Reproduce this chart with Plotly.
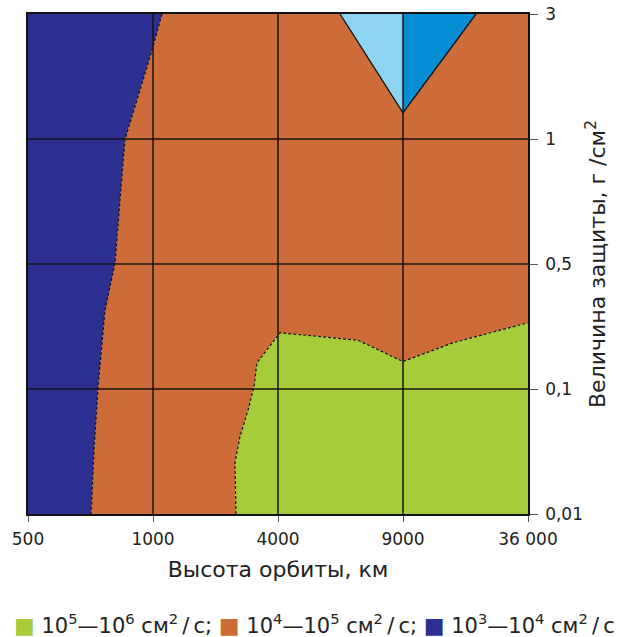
import plotly.graph_objects as go

# Category scales (equally spaced on the chart)
altitude_labels = ["500", "1000", "4000", "9000", "36 000"]
thickness_labels = ["0,01", "0,1", "0,5", "1", "3"]

# Region boundaries, in positions along the category scales
blue_edge_x = [1.072, 0.992, 0.872, 0.776, 0.736, 0.696, 0.616, 0.56, 0.528, 0.504]
blue_edge_y = [4.0, 3.71, 3.31, 3.0, 2.51, 2.01, 1.63, 1.01, 0.51, 0.0]
green_edge_x = [1.664, 1.656, 1.696, 1.76, 1.808, 1.832, 2.016, 2.312, 2.64, 3.0, 3.4, 4.0]
green_edge_y = [0.0, 0.41, 0.62, 0.83, 1.02, 1.21, 1.45, 1.42, 1.39, 1.22, 1.37, 1.53]
light_tri_x = [2.496, 3.0, 3.0]
light_tri_y = [4.0, 3.21, 4.0]
mid_tri_x = [3.0, 3.584, 3.0]
mid_tri_y = [4.0, 4.0, 3.21]

TS = "\u2009"  # thin space
legend_labels = [f"10<sup>5</sup>—10<sup>6</sup> см<sup>2</sup>{TS}/{TS}с",
                 f"10<sup>4</sup>—10<sup>5</sup> см<sup>2</sup>{TS}/{TS}с",
                 f"10<sup>3</sup>—10<sup>4</sup> см<sup>2</sup>{TS}/{TS}с"]

C_BLUE = "#2D3091"
C_ORANGE = "#CD6C38"
C_GREEN = "#A6CD39"
C_LIGHT = "#8DD3F2"
C_MID = "#058ED6"

xmax = len(altitude_labels) - 1
ymax = len(thickness_labels) - 1

fig = go.Figure()

# orange region: complement of the others
orange_x = blue_edge_x + green_edge_x + [xmax, mid_tri_x[1], light_tri_x[1], light_tri_x[0], blue_edge_x[0]]
orange_y = blue_edge_y + green_edge_y + [ymax, mid_tri_y[1], light_tri_y[1], light_tri_y[0], blue_edge_y[0]]
fig.add_trace(go.Scatter(x=orange_x, y=orange_y, fill="toself", fillcolor=C_ORANGE,
                         mode="lines", line=dict(width=0, color=C_ORANGE), hoverinfo="skip"))

blue_x = [0] + blue_edge_x + [0]
blue_y = [ymax] + blue_edge_y + [0]
fig.add_trace(go.Scatter(x=blue_x, y=blue_y, fill="toself", fillcolor=C_BLUE,
                         mode="lines", line=dict(width=0, color=C_BLUE), hoverinfo="skip"))

green_x = green_edge_x + [xmax]
green_y = green_edge_y + [0]
fig.add_trace(go.Scatter(x=green_x, y=green_y, fill="toself", fillcolor=C_GREEN,
                         mode="lines", line=dict(width=0, color=C_GREEN), hoverinfo="skip"))

fig.add_trace(go.Scatter(x=light_tri_x, y=light_tri_y, fill="toself", fillcolor=C_LIGHT,
                         mode="lines", line=dict(width=0, color=C_LIGHT), hoverinfo="skip"))
fig.add_trace(go.Scatter(x=mid_tri_x, y=mid_tri_y, fill="toself", fillcolor=C_MID,
                         mode="lines", line=dict(width=0, color=C_MID), hoverinfo="skip"))

# boundary lines
for bx, by in [(blue_edge_x, blue_edge_y), (green_edge_x, green_edge_y)]:
    fig.add_trace(go.Scatter(x=bx, y=by, mode="lines",
                             line=dict(color="#111111", width=1.2, dash="3px,2px"), hoverinfo="skip"))
fig.add_trace(go.Scatter(x=[light_tri_x[0], light_tri_x[1], mid_tri_x[1]],
                         y=[light_tri_y[0], light_tri_y[1], mid_tri_y[1]], mode="lines",
                         line=dict(color="#111111", width=1.3), hoverinfo="skip"))

# grid lines above fills
for i in range(1, xmax):
    fig.add_shape(type="line", xref="x", yref="y", x0=i, x1=i, y0=0, y1=ymax,
                  line=dict(color="#151515", width=1.5), layer="above")
for j in range(1, ymax):
    fig.add_shape(type="line", xref="x", yref="y", x0=0, x1=xmax, y0=j, y1=j,
                  line=dict(color="#151515", width=1.5), layer="above")

legend_colors = [C_GREEN, C_ORANGE, C_BLUE]
parts = []
for k, (col, lab) in enumerate(zip(legend_colors, legend_labels)):
    sep = ";" if k < len(legend_labels) - 1 else ""
    parts.append(f"<span style='color:{col};font-size:22px'>■</span> {lab}{sep}")
legend_text = " ".join(parts)

fig.add_annotation(text=legend_text, xref="paper", yref="paper", x=0.5, xshift=36,
                   y=0, yshift=-110,
                   xanchor="center", yanchor="middle", showarrow=False,
                   font=dict(family="DejaVu Sans", size=21, color="#222222"))

fig.update_layout(
    width=620, height=637,
    margin=dict(l=28, r=92, t=14, b=123),
    paper_bgcolor="white", plot_bgcolor="white",
    showlegend=False,
    font=dict(family="DejaVu Sans", size=17, color="#222222"),
    xaxis=dict(range=[0, xmax], tickmode="array", tickvals=list(range(xmax + 1)),
               ticktext=altitude_labels, showgrid=False, zeroline=False,
               showline=True, linecolor="#111111", linewidth=1.5, mirror=True,
               ticks="outside", ticklen=6, tickcolor="#555555", automargin=False,
               ticklabelstandoff=3,
               title=dict(text="Высота орбиты, км", font=dict(size=22), standoff=13)),
    yaxis=dict(range=[0, ymax], tickmode="array", tickvals=list(range(ymax + 1)),
               ticktext=thickness_labels, side="right", showgrid=False, zeroline=False,
               showline=True, linecolor="#111111", linewidth=1.5, mirror=True,
               ticks="outside", ticklen=8, tickcolor="#555555", automargin=False,
               ticklabelstandoff=4,
               title=dict(text="Величина защиты, г /см<sup>2</sup>", font=dict(size=22), standoff=8)),
)

fig.write_html("out.html", config={"displayModeBar": False},
               post_script="document.body.style.margin='0px';")
